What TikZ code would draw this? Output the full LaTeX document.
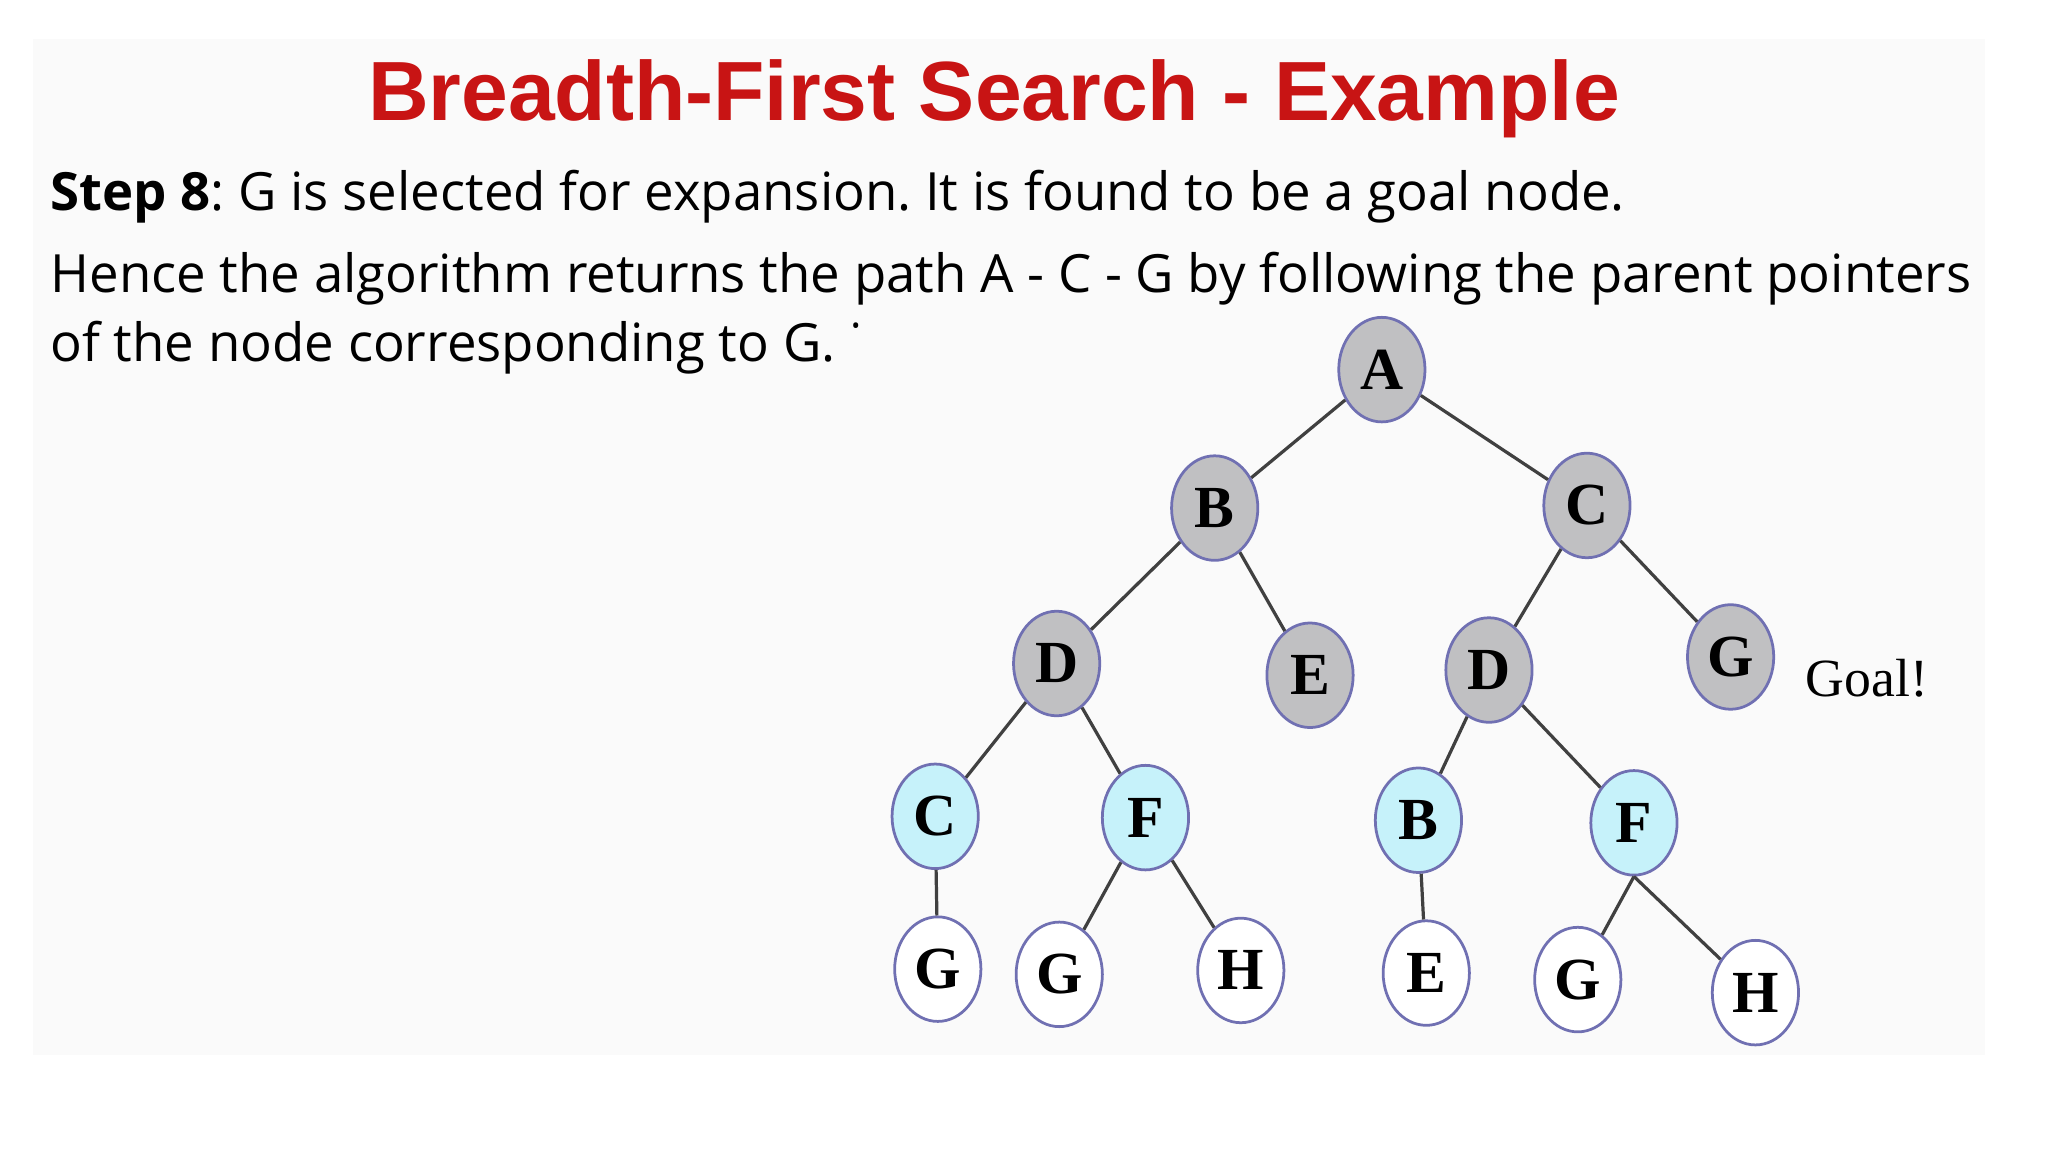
\documentclass[tikz,border=0pt]{standalone}
\usepackage{fontspec}
\usetikzlibrary{shapes.geometric}
\setmainfont{Open Sans}
\newfontfamily\titlefont{Liberation Sans}
\newfontfamily\treefont{Liberation Serif}
\definecolor{bfsred}{RGB}{200,20,20}
\definecolor{visited}{RGB}{192,192,194}
\definecolor{frontier}{RGB}{198,242,250}
\definecolor{rim}{RGB}{112,112,178}
\frenchspacing

\begin{document}
\begin{tikzpicture}[x=0.01cm, y=-0.01cm,
  state/.style={ellipse, draw=rim, line width=0.6pt, minimum width=0.66cm, minimum height=0.80cm, inner sep=0pt, font=\treefont\fontsize{13}{15}\selectfont\bfseries},
  done/.style={state, fill=visited},
  open/.style={state, fill=frontier},
  fresh/.style={state, fill=white},
  link/.style={draw=black!75, line width=0.7pt},
  textline/.style={anchor=base west, inner sep=0pt, font=\fontsize{11.48}{13}\selectfont}]
  \useasboundingbox (0,0) rectangle (1568,882);
  \fill[white] (0,0) rectangle (1568,882);
  \fill[black!2] (25,30) rectangle (1520,808);
  % heading and text
  \node[anchor=base, text=bfsred, font=\titlefont\fontsize{18.3}{22}\selectfont\bfseries] (title) at (761,92) {Breadth-First Search - Example};
  \node[textline] (line1) at (38,161) {\textbf{Step 8}: G is selected for expansion. It is found to be a goal node.};
  \node[textline] (line2) at (38,224) {Hence the algorithm returns the path A - C - G by following the parent pointers};
  \node[textline] (line3) at (38,277) {of the node corresponding to G. ˙};
  % search tree
  \node[done] (A) at (1058,283) {A};
  \node[done] (B) at (930,389) {B};
  \node[done] (C) at (1215,387) {C};
  \node[done] (BD) at (809,508) {D};
  \node[done] (BE) at (1003,517) {E};
  \node[done] (CD) at (1140,513) {D};
  \node[done] (CG) at (1325,503) {G};
  \node[open] (BDC) at (716,625) {C};
  \node[open] (BDF) at (877,626) {F};
  \node[open] (CDB) at (1086,628) {B};
  \node[open] (CDF) at (1251,630) {F};
  \node[fresh] (BDCG) at (718,742) {G};
  \node[fresh] (BDFG) at (811,746) {G};
  \node[fresh] (BDFH) at (950,743) {H};
  \node[fresh] (CDBE) at (1092,745) {E};
  \node[fresh] (CDFG) at (1208,750) {G};
  \node[fresh] (CDFH) at (1344,760) {H};
  \node[anchor=west, inner sep=0pt, font=\treefont\fontsize{11.7}{14}\selectfont] (goal) at (1382,519) {Goal!};
  \foreach \u/\v in {A/B, A/C, B/BD, B/BE, C/CD, C/CG, BD/BDC, BD/BDF, CD/CDB, CD/CDF,
                     BDC/BDCG, BDF/BDFG, BDF/BDFH, CDB/CDBE, CDF.south/CDFG, CDF.south/CDFH}
    \draw[link] (\u) -- (\v);
\end{tikzpicture}
\end{document}
